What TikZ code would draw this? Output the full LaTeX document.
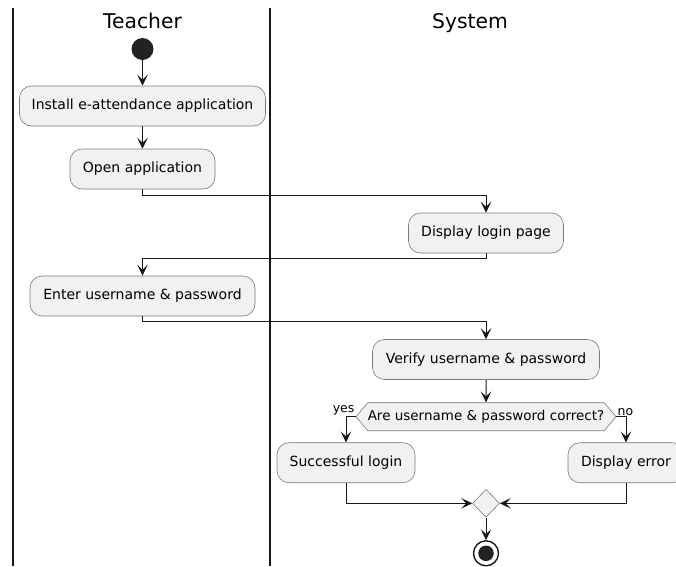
\documentclass[tikz,border=0pt]{standalone}
\usepackage{fontspec}
\setmainfont{DejaVu Sans}
\usetikzlibrary{arrows.meta,shapes.geometric,shapes.symbols}
\definecolor{boxfill}{HTML}{F1F1F1}
\definecolor{boxline}{HTML}{7A7A7A}
\definecolor{lineclr}{HTML}{181818}
\definecolor{dotclr}{HTML}{222222}
\tikzset{
  act/.style={draw=boxline, fill=boxfill, rounded corners=12pt, line width=0.6pt,
    minimum height=40pt, inner sep=0pt, font=\fontsize{14}{16}\selectfont, text=black},
  flow/.style={draw=lineclr, line width=1pt, -{Stealth[length=11pt,width=10.5pt,inset=5pt]}},
  lane/.style={draw=lineclr, line width=2pt},
  lanetitle/.style={font=\fontsize{20.3}{24}\selectfont, text=black, inner sep=0pt, anchor=base},
  lbl/.style={font=\fontsize{12.5}{14}\selectfont, text=black, inner sep=1pt},
}
\begin{document}
\begin{tikzpicture}[x=1pt, y=-1pt]
\useasboundingbox[fill=white] (0,0) rectangle (676,566);

% swimlane separators and titles
\draw[lane] (13,8) -- (13,566);
\draw[lane] (270,8) -- (270,566);
\node[lanetitle] (tteacher) at (142.5,28) {Teacher};
\node[lanetitle] (tsystem) at (470,28) {System};

% activities
\node[circle, fill=dotclr, minimum size=22pt, inner sep=0pt] (start) at (142.5,49) {};
\node[act, minimum width=246pt] (install) at (142.5,106) {Install e-attendance application};
\node[act, minimum width=145pt] (open) at (142.5,169) {Open application};
\node[act, minimum width=155pt] (login) at (486,233) {Display login page};
\node[act, minimum width=225pt] (enter) at (142.5,296) {Enter username \& password};
\node[act, minimum width=227pt] (verify) at (486,359.5) {Verify username \& password};
\node[signal, signal to=east and west, signal pointer angle=100,
      draw=boxline, fill=boxfill, line width=0.6pt, minimum width=255pt, minimum height=28pt,
      inner sep=0pt, font=\fontsize{13.5}{16}\selectfont, text=black] (check) at (486,416.7)
      {Are username \& password correct?};
\node[act, minimum width=138pt] (success) at (346,462.7) {Successful login};
\node[act, minimum width=116pt] (error) at (626,462.7) {Display error};
\node[diamond, draw=boxline, fill=boxfill, line width=0.6pt, minimum width=27pt,
      minimum height=28pt, inner sep=0pt] (merge) at (486,503.3) {};
\node[circle, draw=lineclr, line width=1.4pt, fill=white, minimum size=25pt, inner sep=0pt] (stop) at (486,553.3) {};
\node[circle, fill=dotclr, minimum size=15.5pt, inner sep=0pt] (stopdot) at (stop.center) {};

% flow
\draw[flow] (start) -- (install);
\draw[flow] (install) -- (open);
\draw[flow] (open.south) -- ++(0,6) -| (login.north);
\draw[flow] (login.south) -- ++(0,5) -| (enter.north);
\draw[flow] (enter.south) -- ++(0,5.5) -| (verify.north);
\draw[flow] (verify) -- (check);
\draw[flow] (check.west) -| (success.north);
\draw[flow] (check.east) -| (error.north);
\draw[flow] (success.south) |- (merge.west);
\draw[flow] (error.south) |- (merge.east);
\draw[flow] (merge) -- (stop);

% guard labels
\node[lbl, anchor=south east] (yes) at (check.west) {yes};
\node[lbl, anchor=south west] (no) at (check.east) {no};
\end{tikzpicture}
\end{document}
